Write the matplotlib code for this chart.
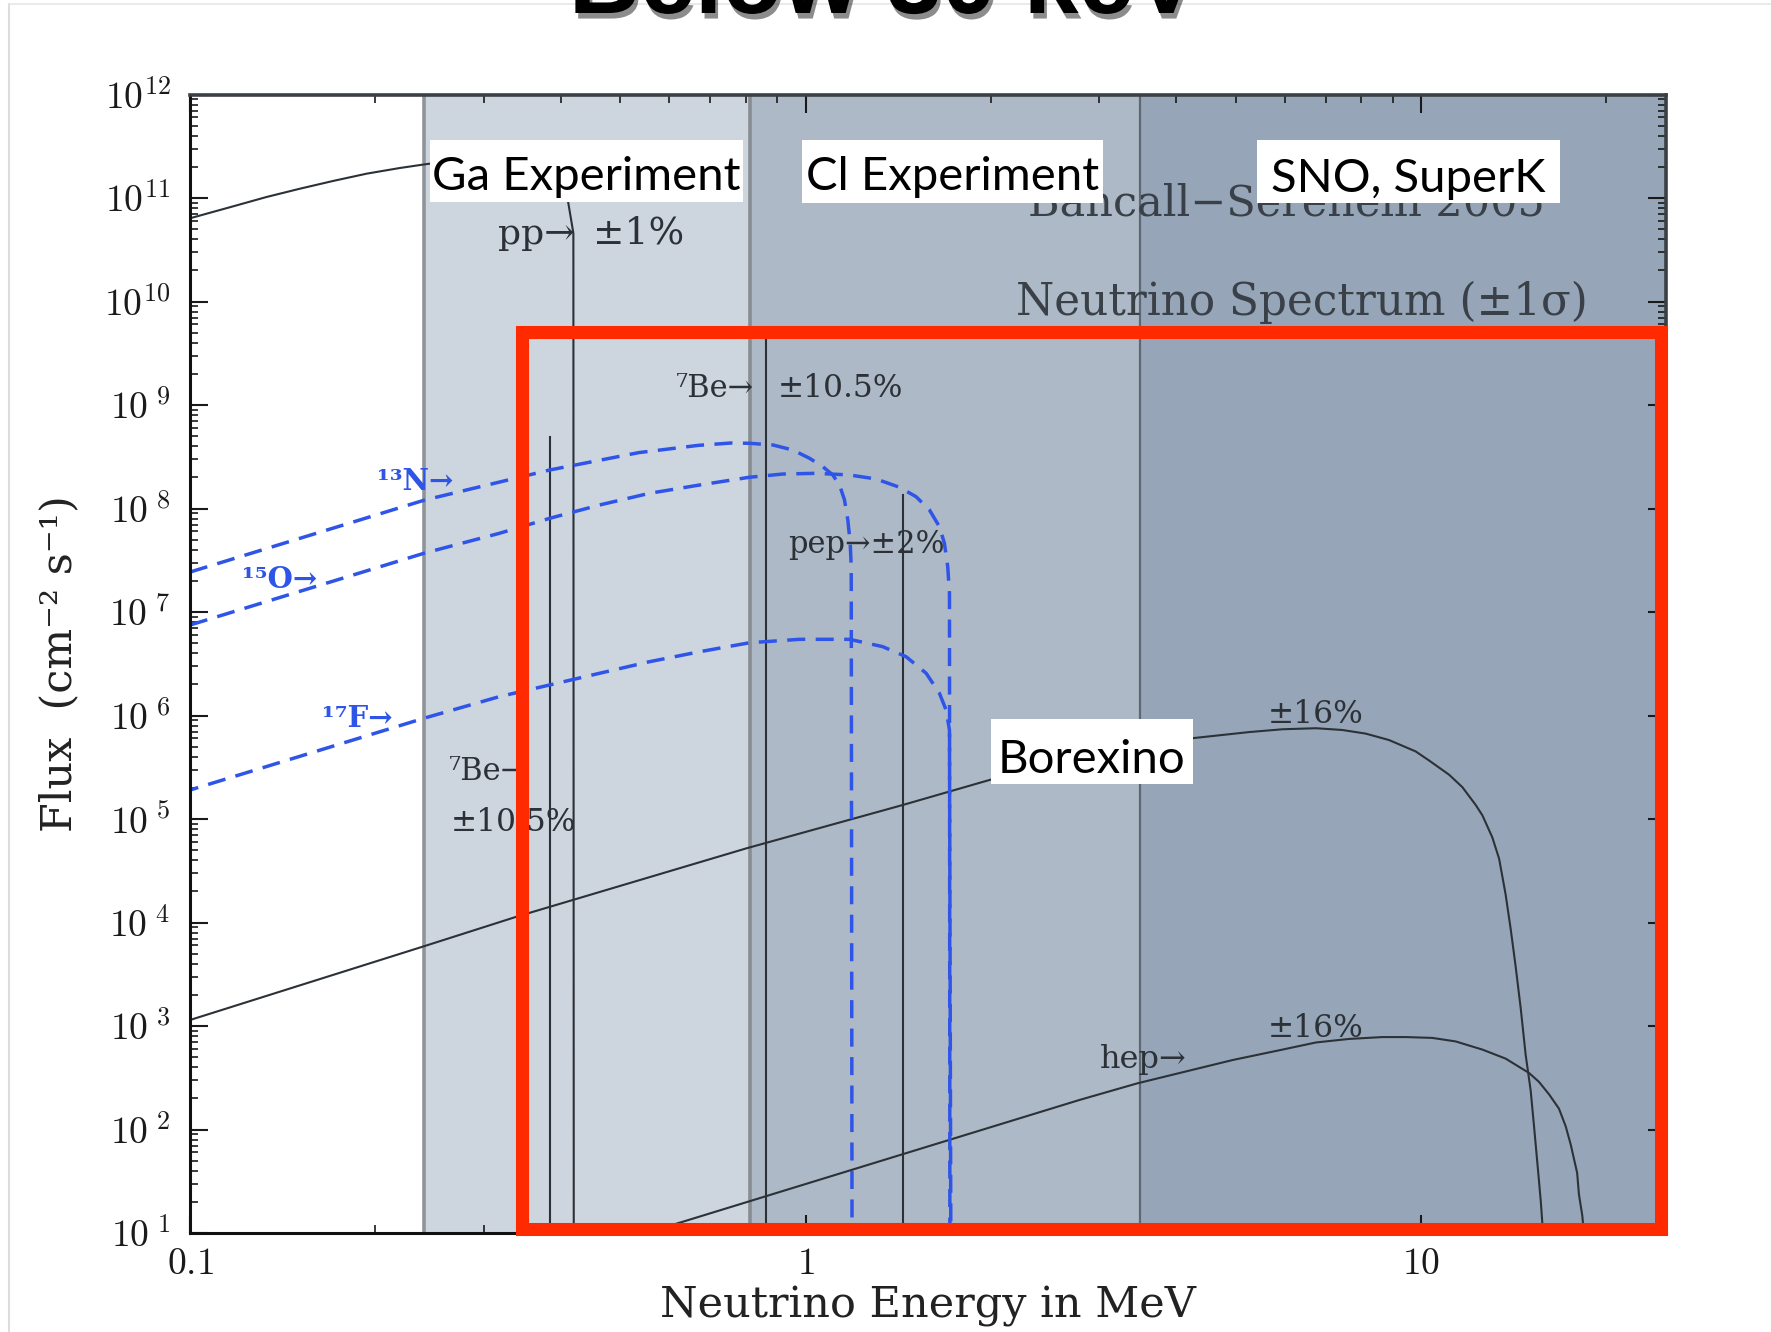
import numpy as np
import matplotlib
matplotlib.use('Agg')
import matplotlib.pyplot as plt
import matplotlib.patheffects as pe
from matplotlib.patches import Rectangle
from matplotlib.lines import Line2D
from matplotlib.ticker import FixedLocator, LogLocator, FuncFormatter, NullFormatter

W, H = 1771, 1332

# detector thresholds in MeV (Ga, Cl, SNO/SuperK) and their shading
band_edges = [0.24, 0.813, 3.5, 25.0]
band_colors = ['#cdd5de', '#adb9c6', '#96a6b8']
band_edge_colors = ['#909498', '#888d93', '#5d6874']
band_names = ['Ga Experiment', 'Cl Experiment', 'SNO, SuperK']

# continuum spectra: energy (MeV), log10 flux
pp_E = [0.1, 0.1176, 0.1332, 0.1509, 0.1709, 0.1936, 0.2193, 0.2438, 0.28, 0.32, 0.36,
        0.39, 0.4114, 0.4196, 0.4202]
pp_logF = [10.804, 10.92, 11.01, 11.09, 11.165, 11.235, 11.29, 11.33, 11.36, 11.37, 11.33,
           11.2, 10.964, 10.66, 1.0]

b8_E = [0.1, 0.2407, 0.338, 0.802, 1.438, 1.99, 3.0, 4.24, 5.26, 5.955, 6.75, 7.45, 8.13,
        8.87, 9.80, 10.3, 11.1, 11.67, 12.27, 12.58, 13.05, 13.39, 13.72, 13.99, 14.24,
        14.52, 14.79, 15.07, 15.26, 15.39, 15.54, 15.65, 15.74, 15.85]
b8_logF = [3.058, 3.773, 4.053, 4.717, 5.135, 5.377, 5.64, 5.78, 5.84, 5.867, 5.877, 5.860,
           5.825, 5.763, 5.653, 5.566, 5.429, 5.308, 5.135, 5.035, 4.825, 4.617, 4.272,
           3.928, 3.583, 3.168, 2.720, 2.375, 2.030, 1.788, 1.512, 1.305, 1.098, 0.9]

hep_E = [0.55, 0.632, 1.724, 2.785, 3.46, 4.94, 5.955, 6.75, 7.64, 8.65, 9.44, 10.43, 11.38,
         12.58, 13.72, 14.97, 15.54, 16.14, 16.75, 17.18, 17.50, 17.93, 18.05, 18.28, 18.45]
hep_logF = [1.0, 1.109, 1.905, 2.285, 2.446, 2.671, 2.772, 2.841, 2.875, 2.893, 2.893, 2.885,
            2.851, 2.772, 2.685, 2.547, 2.461, 2.340, 2.202, 2.030, 1.857, 1.581, 1.374,
            1.167, 0.9]

n13_E = [0.1, 0.2407, 0.384, 0.536, 0.6696, 0.7578, 0.8111, 0.8849, 0.9537, 1.0151, 1.0668,
         1.1074, 1.1356, 1.157, 1.1714, 1.182, 1.1864, 1.190]
n13_logF = [7.386, 8.082, 8.372, 8.54, 8.61, 8.633, 8.63, 8.614, 8.565, 8.485, 8.404, 8.324,
            8.227, 8.082, 7.889, 7.664, 7.438, 1.0]

o15_E = [0.1, 0.2407, 0.318, 0.384, 0.4628, 0.558, 0.6727, 0.8111, 0.9187, 1.0408, 1.1788,
         1.3024, 1.4213, 1.5122, 1.5899, 1.6502, 1.6813, 1.7022, 1.7134, 1.716]
o15_logF = [6.874, 7.570, 7.760, 7.905, 8.034, 8.147, 8.227, 8.302, 8.333, 8.340, 8.324,
            8.285, 8.205, 8.114, 7.986, 7.824, 7.664, 7.438, 7.181, 1.0]

f17_E = [0.1, 0.2407, 0.318, 0.384, 0.4628, 0.558, 0.6727, 0.8111, 0.9779, 1.1788, 1.335,
         1.4569, 1.5704, 1.6502, 1.692, 1.7134, 1.722]
f17_logF = [5.280, 5.976, 6.182, 6.295, 6.408, 6.520, 6.616, 6.703, 6.736, 6.736, 6.665,
            6.568, 6.408, 6.215, 6.053, 5.860, 1.0]

# line sources: energy (MeV), flux (cm^-2 s^-1)
line_E = [0.384, 0.862, 1.442]
line_F = [4.9e8, 4.25e9, 1.35e8]

y_decades = list(range(1, 13))
x_major = [0.1, 1, 10]
x_major_labels = ['0.1', '1', '10']


def fx(x):
    return x / W


def fy(y):
    return 1 - y / H


def ylab(v, _):
    k = int(round(np.log10(v)))
    return r'$10^{%d}$' % k if k >= 10 else r'$10^{\ %d}$' % k


plt.rcParams['mathtext.fontset'] = 'cm'
serif = ['DejaVu Serif', 'DejaVu Sans']
ink = '#2c3137'
blue = '#2f55e8'

fig = plt.figure(figsize=(W / 100, H / 100), dpi=100)
fig.patch.set_facecolor('white')
ax = fig.add_axes([fx(190), fy(1233), (1666 - 190) / W, (1233 - 94.5) / H])
ax.set_xscale('log')
ax.set_yscale('log')
ax.set_xlim(0.1, 25)
ax.set_ylim(10, 1e12)

# experiment bands
for i in range(3):
    ax.axvspan(band_edges[i], band_edges[i + 1], color=band_colors[i], lw=0, zorder=0)
    ax.axvline(band_edges[i], color=band_edge_colors[i], lw=2.6 if i < 2 else 1.6, zorder=0.5)

# spectra
for e_, lf in [(pp_E, pp_logF), (b8_E, b8_logF), (hep_E, hep_logF)]:
    ax.plot(e_, np.power(10.0, lf), color=ink, lw=1.5, zorder=2)
for e, f in zip(line_E, line_F):
    ax.plot([e, e], [f, 10], color=ink, lw=1.5, zorder=2)


def path_len_pt(e_, lf):
    pts = ax.transData.transform(np.column_stack([e_, np.power(10.0, lf)]))
    return np.sum(np.hypot(*np.diff(pts, axis=0).T)) * 72 / fig.dpi


# CNO dashed curves; 17F dashes shifted half a period so its tail fills the 15O gaps
blw, on, off = 2.5, 5.2, 3.0
period = (on + off) * blw
shift = (path_len_pt(o15_E, o15_logF) - path_len_pt(f17_E, f17_logF) + period / 2) % period
ax.plot(n13_E, np.power(10.0, n13_logF), color=blue, lw=blw, ls=(0, (on, off)), zorder=2)
ax.plot(o15_E, np.power(10.0, o15_logF), color=blue, lw=blw, ls=(0, (on, off)), zorder=2)
ax.plot(f17_E, np.power(10.0, f17_logF), color=blue, lw=blw, ls=(shift / blw, (on, off)),
        zorder=2)

# axes styling
ax.yaxis.set_major_locator(FixedLocator([10.0 ** k for k in y_decades]))
ax.yaxis.set_minor_locator(LogLocator(base=10, subs=np.arange(2, 10), numticks=200))
ax.yaxis.set_major_formatter(FuncFormatter(ylab))
ax.yaxis.set_minor_formatter(NullFormatter())
ax.xaxis.set_major_locator(FixedLocator(x_major))
ax.xaxis.set_major_formatter(FuncFormatter(lambda v, i: r'$%s$' % x_major_labels[i]))
ax.xaxis.set_minor_locator(LogLocator(base=10, subs=np.arange(2, 10), numticks=50))
ax.xaxis.set_minor_formatter(NullFormatter())
ax.tick_params(which='both', direction='in', top=True, right=True, colors='#1a1a1a')
ax.tick_params(which='major', length=13, width=1.5, labelsize=27)
ax.tick_params(which='minor', length=6, width=1.2)
ax.tick_params(axis='y', which='major', pad=14)
ax.tick_params(axis='x', which='major', pad=9)
for side in ['left', 'bottom']:
    ax.spines[side].set_linewidth(2.2)
    ax.spines[side].set_color('#111111')
for side in ['top', 'right']:
    ax.spines[side].set_linewidth(2.6)
    ax.spines[side].set_color('#3a3f45')

ax.set_xlabel('Neutrino Energy in MeV', family=serif, fontsize=31, color='#222222')
ax.xaxis.set_label_coords(0.5, -0.046)
ax.set_ylabel('Flux  (cm⁻² s⁻¹)', family=serif, fontsize=31, color='#222222')
ax.yaxis.set_label_coords(-0.074, 0.5)

# annotations inside the plot (pixel anchors: left edge, baseline)
notes = [
    ('Bahcall−Serenelli 2005', 1028, 215, 31, '#3a4048'),
    ('Neutrino Spectrum (±1σ)', 1016, 315, 31.5, '#3a4048'),
    ('pp→', 498, 244, 26, ink),
    ('±1%', 593, 244, 27, ink),
    ('⁷Be→', 676, 397, 22, ink),
    ('±10.5%', 778, 397, 22.5, ink),
    ('pep→±2%', 788, 553, 22, ink),
    ('⁷Be→', 449, 780, 22, ink),
    ('±10.5%', 451, 831, 22.5, ink),
    ('⁸B→', 1101, 745, 22, ink),
    ('±16%', 1268, 723, 22.5, ink),
    ('±16%', 1268, 1037, 22.5, ink),
    ('hep→', 1100, 1068, 23, ink),
]
for s, x, y, size, c in notes:
    fig.text(fx(x), fy(y), s, family=serif, fontsize=size, color=c, va='baseline', zorder=3)

cno_notes = [('¹³N→', 377, 490), ('¹⁵O→', 242, 588), ('¹⁷F→', 322, 727)]
for s, x, y in cno_notes:
    fig.text(fx(x), fy(y), s, family=serif, fontsize=21, color=blue, fontweight='bold',
             va='baseline', zorder=3)

# Borexino window
fig.patches.append(Rectangle((fx(521.5), fy(1228.5)), (1661 - 521.5) / W, (1228.5 - 331.5) / H,
                             transform=fig.transFigure, fill=False, edgecolor='#ff2a00',
                             lw=9.4, joinstyle='miter', zorder=10))

# white label boxes
boxes = [(band_names[0], 429.6, 140, 743, 202, 190),
         (band_names[1], 802, 140, 1103, 203, 190),
         (band_names[2], 1257, 140, 1560, 203, 192),
         ('Borexino', 990.5, 719, 1192.8, 784, 773)]
for s, x0, y0, x1, y1, base in boxes:
    fig.patches.append(Rectangle((fx(x0), fy(y1)), (x1 - x0) / W, (y1 - y0) / H,
                                 transform=fig.transFigure, facecolor='white',
                                 edgecolor='none', zorder=11))
    fig.text(fx((x0 + x1) / 2), fy(base), s, family='Lato', fontsize=34, color='black',
             ha='center', va='baseline', zorder=12)

# slide frame and clipped title
fig.add_artist(Line2D([fx(9), fx(9)], [fy(4), 0], color='#dcdcdc', lw=1.5))
fig.add_artist(Line2D([fx(9), 1], [fy(4), fy(4)], color='#e6e6e6', lw=1.2))
fig.text(fx(884), fy(13), 'Below 30 keV', family='Liberation Sans', fontweight='bold',
         fontsize=71, ha='center', va='baseline', color='black',
         path_effects=[pe.withSimplePatchShadow(offset=(2, -4), alpha=0.45)])

fig.savefig('out.png', dpi=100)
